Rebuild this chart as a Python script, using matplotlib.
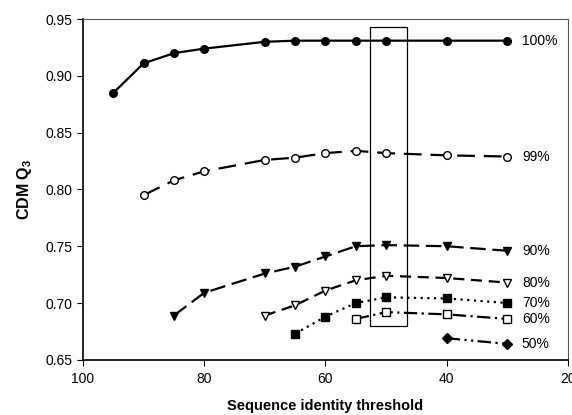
import matplotlib
matplotlib.use("Agg")
import matplotlib.pyplot as plt
from matplotlib.patches import Rectangle

plt.rcParams['font.family'] = ['Liberation Sans', 'DejaVu Sans']
plt.rcParams['mathtext.fontset'] = 'custom'
plt.rcParams['mathtext.rm'] = 'Liberation Sans'
plt.rcParams['mathtext.bf'] = 'Liberation Sans:bold'

# --- data ---
thr_100 = [95, 90, 85, 80, 70, 65, 60, 55, 50, 40, 30]
q3_100 = [0.885, 0.911, 0.920, 0.924, 0.930, 0.931, 0.931, 0.931, 0.931, 0.931, 0.931]

thr_99 = [90, 85, 80, 70, 65, 60, 55, 50, 40, 30]
q3_99 = [0.795, 0.808, 0.816, 0.826, 0.828, 0.832, 0.834, 0.832, 0.830, 0.829]

thr_90 = [85, 80, 70, 65, 60, 55, 50, 40, 30]
q3_90 = [0.689, 0.709, 0.726, 0.732, 0.741, 0.750, 0.751, 0.750, 0.746]

thr_80 = [70, 65, 60, 55, 50, 40, 30]
q3_80 = [0.689, 0.698, 0.711, 0.720, 0.724, 0.722, 0.718]

thr_70 = [65, 60, 55, 50, 40, 30]
q3_70 = [0.673, 0.688, 0.700, 0.705, 0.704, 0.700]

thr_60 = [55, 50, 40, 30]
q3_60 = [0.686, 0.692, 0.690, 0.686]

thr_50 = [40, 30]
q3_50 = [0.669, 0.664]

labels = ['100%', '99%', '90%', '80%', '70%', '60%', '50%']

# highlighted window around threshold 50
box_x = (52.6, 46.5)
box_y = (0.680, 0.943)

series = [
    (thr_100, q3_100, '-', 'o', 'black'),
    (thr_99, q3_99, (0, (8, 4)), 'o', 'white'),
    (thr_90, q3_90, (0, (7, 3)), 'v', 'black'),
    (thr_80, q3_80, (0, (5, 3)), 'v', 'white'),
    (thr_70, q3_70, (0, (1, 2)), 's', 'black'),
    (thr_60, q3_60, (0, (6, 2, 1, 2)), 's', 'white'),
    (thr_50, q3_50, (0, (6, 2, 1, 2, 1, 2)), 'D', 'black'),
]

fig = plt.figure(figsize=(5.72, 4.15), dpi=100)
ax = fig.add_axes([0.145, 0.133, 0.848, 0.821])

for (x, y, ls, mk, fc), lab in zip(series, labels):
    ax.plot(x, y, linestyle=ls, color='black', linewidth=1.6,
            marker=mk, markersize=5.5 if mk != 'D' else 5,
            markerfacecolor=fc, markeredgecolor='black', markeredgewidth=1)
    ax.text(x[-1] - 2.4, y[-1], lab, fontsize=10, va='center', ha='left')

ax.add_patch(Rectangle((box_x[0], box_y[0]), box_x[1] - box_x[0], box_y[1] - box_y[0],
                       fill=False, edgecolor='black', linewidth=0.9))

ax.set_xlim(100, 20)
ax.set_ylim(0.65, 0.95)
ax.set_xticks([100, 80, 60, 40, 20])
ax.set_yticks([0.65, 0.70, 0.75, 0.80, 0.85, 0.90, 0.95])
ax.set_yticklabels(['%.2f' % v for v in ax.get_yticks()])
ax.tick_params(labelsize=10, direction='out', length=4)
ax.tick_params(axis='x', pad=5)

for s in ['top', 'right']:
    ax.spines[s].set_color('#555555')
    ax.spines[s].set_linewidth(0.8)
for s in ['left', 'bottom']:
    ax.spines[s].set_linewidth(1.2)

ax.set_xlabel('Sequence identity threshold', fontsize=10.5, fontweight='bold', labelpad=9)
ax.set_ylabel('CDM Q$_{\\mathbf{3}}$', fontsize=11.5, fontweight='bold', labelpad=8)

fig.savefig('out.png', dpi=100)
